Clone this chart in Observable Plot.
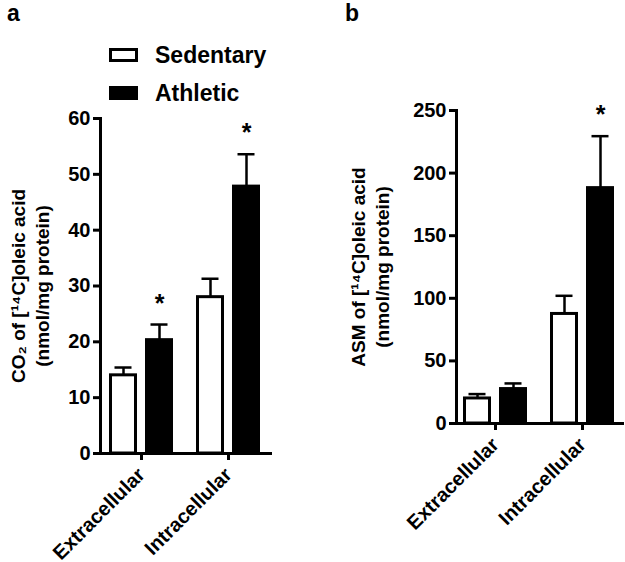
<!DOCTYPE html>
<html>
<head>
<meta charset="utf-8">
<script src="https://cdn.jsdelivr.net/npm/d3@7"></script>
<script src="https://cdn.jsdelivr.net/npm/@observablehq/plot@0.6"></script>
<style>
  body { margin: 0; background: white; font-family: "Liberation Sans", Arial, sans-serif; }
  #fig { position: relative; width: 625px; height: 562px; overflow: hidden; }
  .panel { position: absolute; top: 100px; }
  .letter { position: absolute; font-weight: bold; font-size: 23px; line-height: 1; }
  .legend-row { position: absolute; left: 109px; height: 28px; display: flex; align-items: center;
                font-weight: bold; font-size: 23px; }
  .sw { display: inline-block; width: 23px; height: 8px; border: 3px solid black; margin-right: 17px; }
</style>
</head>
<body>
<div id="fig">
  <div class="letter" style="left:7px; top:2px;">a</div>
  <div class="letter" style="left:345px; top:2px;">b</div>
  <div class="legend-row" style="top:41px;"><span class="sw" style="background:white"></span>Sedentary</div>
  <div class="legend-row" style="top:79px;"><span class="sw" style="background:black"></span>Athletic</div>
  <div id="chartA" class="panel" style="left:0px;"></div>
  <div id="chartB" class="panel" style="left:320px;"></div>
</div>
<script>
const locations = ["Extracellular", "Intracellular"]
const groups = ["Sedentary", "Athletic"]

// panel a: CO2 from [14C]oleic acid
const co2Sedentary = [14.0, 28.0]
const co2SedentarySem = [1.4, 3.3]
const co2Athletic = [20.3, 47.8]
const co2AthleticSem = [2.8, 5.8]
const co2Significant = [true, true]
const co2Ticks = [0, 10, 20, 30, 40, 50, 60]

// panel b: acid soluble metabolites
const asmSedentary = [20.0, 87.5]
const asmSedentarySem = [3.5, 14.5]
const asmAthletic = [27.5, 188.0]
const asmAthleticSem = [4.5, 41.5]
const asmSignificant = [false, true]
const asmTicks = [0, 50, 100, 150, 200, 250]

const co2Label = "CO\u2082 of [\u00b9\u2074C]oleic acid\n(nmol/mg protein)"
const asmLabel = "ASM of [\u00b9\u2074C]oleic acid\n(nmol/mg protein)"

function rows(means, sems, group, sig) {
  return locations.map((loc, i) => ({
    location: loc,
    group: group,
    value: means[i],
    upper: means[i] + sems[i],
    star: sig ? sig[i] : false
  }))
}

function panel({sed, ath, ticks, label, width, marginLeft, marginRight, marginTop, marginBottom, paddingOuter, labelDx}) {
  return Plot.plot({
    width: width,
    height: 462,
    marginLeft: marginLeft,
    marginRight: marginRight,
    marginTop: marginTop,
    marginBottom: marginBottom,
    style: {fontFamily: "'Liberation Sans', Arial, sans-serif", fontWeight: "bold", fontSize: "20px", color: "black", overflow: "visible"},
    x: {domain: locations, paddingInner: 0.26, paddingOuter: paddingOuter},
    y: {domain: [0, ticks[ticks.length - 1]]},
    marks: [
      // error bars, upper half only
      Plot.ruleX(sed, {x: "location", y1: "value", y2: "upper", dx: -18, strokeWidth: 2.5}),
      Plot.ruleX(ath, {x: "location", y1: "value", y2: "upper", dx: 18, strokeWidth: 2.5}),
      Plot.tickY(sed, {x: "location", y: "upper", insetLeft: 5.5, insetRight: 41.5, strokeWidth: 2.5}),
      Plot.tickY(ath, {x: "location", y: "upper", insetLeft: 41.5, insetRight: 5.5, strokeWidth: 2.5}),
      Plot.barY(sed, {x: "location", y: "value", fill: "white", stroke: "black", strokeWidth: 3, insetLeft: 1.5, insetRight: 37.5}),
      Plot.barY(ath, {x: "location", y: "value", fill: "black", stroke: "black", strokeWidth: 3, insetLeft: 37.5, insetRight: 1.5}),
      Plot.text(ath.filter(d => d.star), {x: "location", y: "upper", text: d => "*", dx: 18, dy: -21, fontSize: 25, fontWeight: "bold"}),
      Plot.axisY({ticks: ticks, tickSize: 7, tickPadding: 3, strokeWidth: 3, fontSize: 20, label: null}),
      Plot.axisX({tickSize: 7, tickPadding: 11, strokeWidth: 3, tickRotate: -45, fontSize: 20, label: null}),
      Plot.frame({anchor: "left", strokeWidth: 3}),
      Plot.frame({anchor: "bottom", strokeWidth: 3}),
      Plot.text([label], {frameAnchor: "left", text: d => d, rotate: -90, dx: labelDx, textAnchor: "middle", lineAnchor: "middle", lineHeight: 1.27, fontSize: 19})
    ]
  })
}

const chartA = panel({
  sed: rows(co2Sedentary, co2SedentarySem, groups[0]),
  ath: rows(co2Athletic, co2AthleticSem, groups[1], co2Significant),
  ticks: co2Ticks, label: co2Label,
  width: 300, marginLeft: 100, marginRight: 30, marginTop: 18, marginBottom: 109,
  paddingOuter: 0.1, labelDx: -71
})

const chartB = panel({
  sed: rows(asmSedentary, asmSedentarySem, groups[0]),
  ath: rows(asmAthletic, asmAthleticSem, groups[1], asmSignificant),
  ticks: asmTicks, label: asmLabel,
  width: 305, marginLeft: 136, marginRight: 3, marginTop: 10, marginBottom: 139,
  paddingOuter: 0.075, labelDx: -87
})

d3.select('#chartA').append(() => chartA)
d3.select('#chartB').append(() => chartB)
</script>
</body>
</html>
